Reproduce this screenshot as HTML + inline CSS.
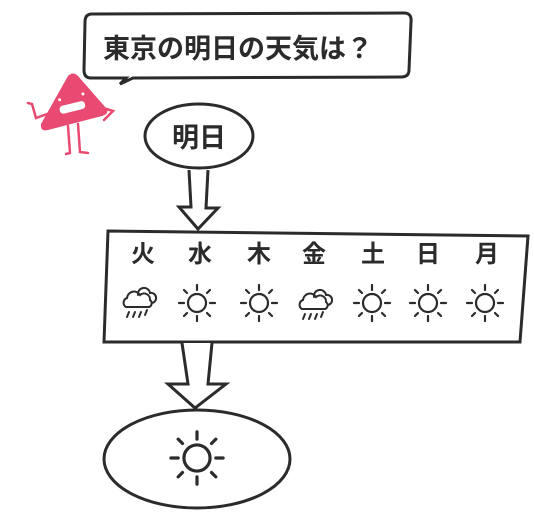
<!DOCTYPE html>
<html><head><meta charset="utf-8"><style>
html,body{margin:0;padding:0;background:#fff;}
svg{display:block;}
text{font-family:"Liberation Sans","Noto Sans CJK JP",sans-serif;font-weight:bold;fill:#2b2b2b;}
</style></head><body>
<svg width="534" height="520" viewBox="0 0 534 520" xmlns="http://www.w3.org/2000/svg">
<defs>
<g id="sun" stroke="#2b2b2b" stroke-width="2.2" fill="none" stroke-linecap="round">
<circle r="9"/>
<line x1="0" y1="-13" x2="0" y2="-18"/><line x1="0" y1="13" x2="0" y2="18"/>
<line x1="-13" y1="0" x2="-18" y2="0"/><line x1="13" y1="0" x2="18" y2="0"/>
<line x1="-10" y1="-10" x2="-13" y2="-13"/><line x1="10" y1="-10" x2="13" y2="-13"/>
<line x1="-10" y1="10" x2="-13" y2="13"/><line x1="10" y1="10" x2="13" y2="13"/>
</g>
<g id="rain" stroke="#2b2b2b" stroke-width="2" fill="none" stroke-linecap="round">
<path d="M-14 4 a5 5 0 0 1 1-9 a7 7 0 0 1 13-3 a6 6 0 0 1 10 5 a4 4 0 0 1 -1 7 z"/>
<path d="M-2 -8 a6 6 0 0 1 12 -2 a5 5 0 0 1 2 10"/>
<line x1="-11" y1="9" x2="-13" y2="14"/><line x1="-5" y1="9" x2="-7" y2="14"/><line x1="1" y1="9" x2="-1" y2="14"/><line x1="7" y1="7" x2="5" y2="12"/>
</g>
</defs>
<path d="M92 14 L404 13 Q412 13 411 22 L409 70 Q409 77 401 77 L133 78 L120 84 L126 78 L91 78 Q84 78 84 70 L85 22 Q85 14 92 14 Z" fill="#fff" stroke="#2b2b2b" stroke-width="3"/>
<text x="103" y="58" font-size="27">東京の明日の天気は？</text>
<g>
<path d="M68 76 Q73 71 78 76 L106 108 Q110 114 102 116 L48 130 Q40 132 41 124 Z" fill="#e84a72"/>
<g transform="rotate(-14 72 108)">
<rect x="59" y="103" width="27" height="9" rx="4" fill="#fff" stroke="#e84a72"/>
<circle cx="62" cy="97" r="1.5" fill="#fff"/><circle cx="86" cy="97" r="1.5" fill="#fff"/>
</g>
<g stroke="#e84a72" stroke-width="2.5" fill="none" stroke-linecap="round">
<path d="M50 113 L36 118 L32 104 L28 103"/>
<path d="M100 107 L113 111 L104 120"/>
<path d="M68 126 L70 153 L66 154"/><path d="M78 124 L80 152 L88 153"/>
</g>
</g>
<ellipse cx="199" cy="136" rx="54" ry="32" fill="#fff" stroke="#2b2b2b" stroke-width="3"/>
<text x="172" y="147" font-size="27">明日</text>
<path d="M189 170 L191 207 L179 207 L198 229 L218 208 L206 208 L208 170" fill="#fff" stroke="#2b2b2b" stroke-width="3"/>
<path d="M108 231 L528 236 L520 342 L104 342 Z" fill="#fff" stroke="#2b2b2b" stroke-width="3"/>
<g font-size="24" text-anchor="middle">
<text x="143" y="262">火</text><text x="200" y="262">水</text><text x="259" y="262">木</text><text x="314" y="262">金</text><text x="373" y="262">土</text><text x="428" y="262">日</text><text x="487" y="262">月</text>
</g>
<use href="#rain" x="140" y="303"/>
<use href="#sun" x="197" y="303"/>
<use href="#sun" x="259" y="303"/>
<use href="#rain" x="316" y="305"/>
<use href="#sun" x="372" y="303"/>
<use href="#sun" x="428" y="303"/>
<use href="#sun" x="485" y="303"/>
<path d="M182 343 L188 384 L168 384 L195 408 L226 384 L208 384 L212 343" fill="#fff" stroke="#2b2b2b" stroke-width="3"/>
<ellipse cx="197" cy="459" rx="93" ry="49" fill="#fff" stroke="#2b2b2b" stroke-width="3"/>
<g transform="translate(197,458) scale(1.45)"><use href="#sun"/></g>
</svg>
</body></html>
